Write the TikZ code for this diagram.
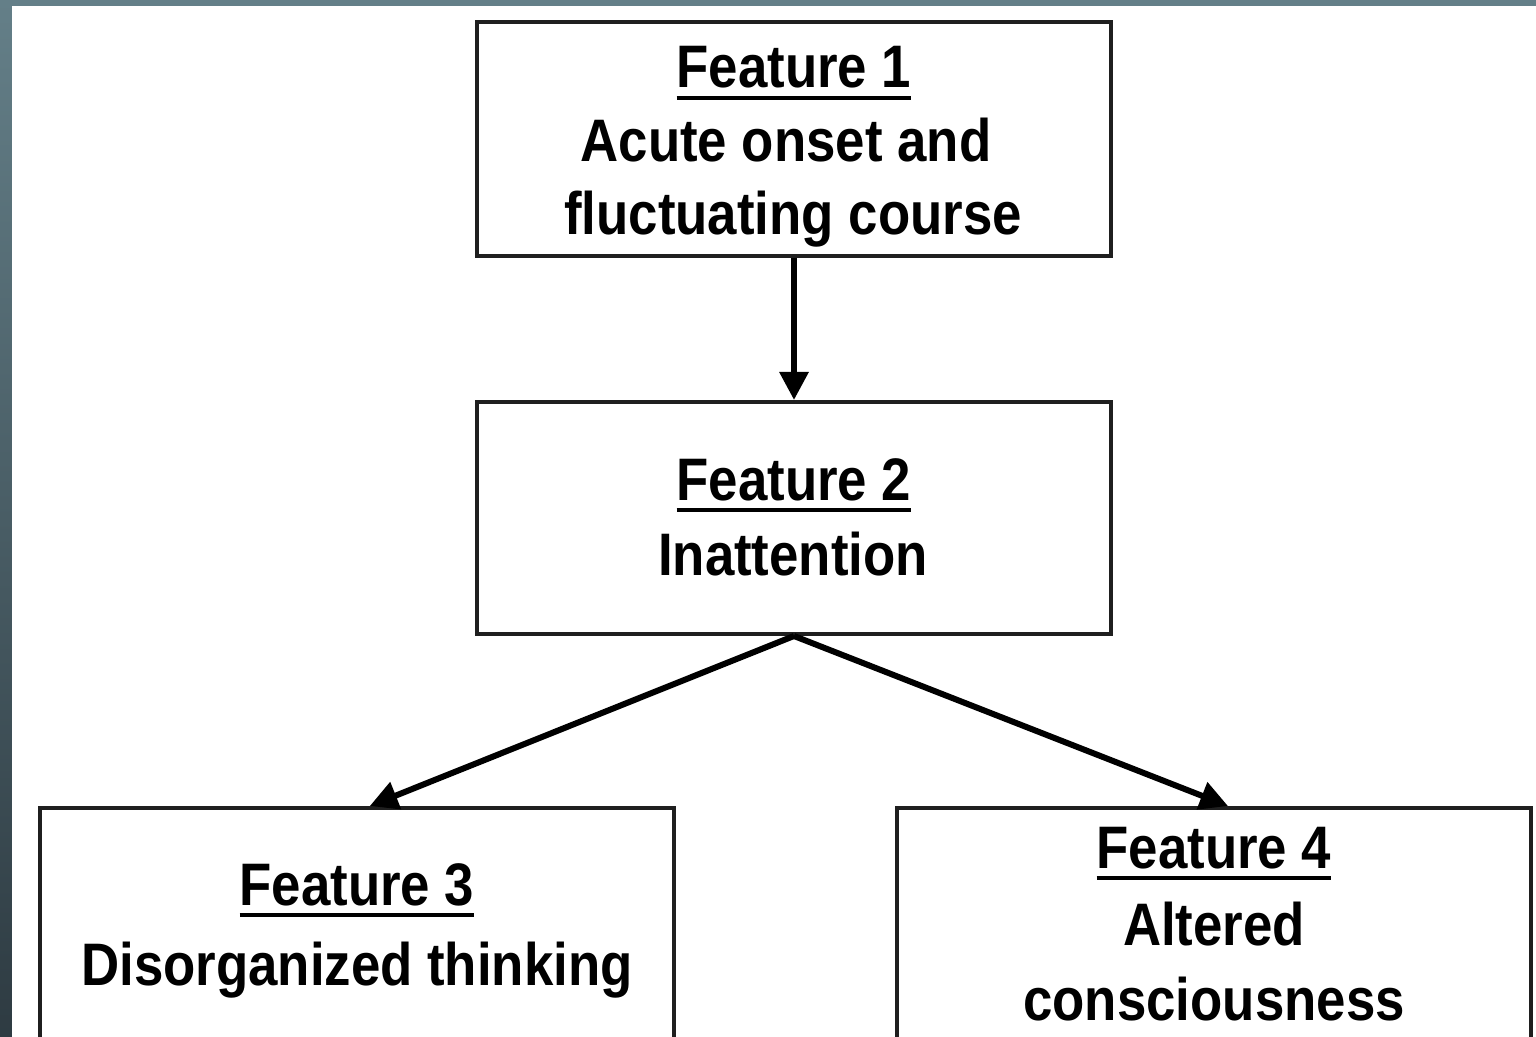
\documentclass[tikz,border=0pt]{standalone}
\usepackage{fontspec}
\setmainfont{Liberation Sans}[FakeStretch=0.88]
\usetikzlibrary{arrows.meta,calc}
\definecolor{bgtop}{HTML}{647F88}
\definecolor{bgbot}{HTML}{2E3B42}
\newcommand\featul[1]{\setbox0\hbox{#1}\rlap{\copy0}\rule[-6pt]{\wd0}{2.2pt}}
\begin{document}
\begin{tikzpicture}[x=0.5pt,y=-0.5pt,
  box/.style={draw=black!88,line width=2pt,fill=white,inner sep=0pt},
  txt/.style={anchor=base,inner sep=0pt,font=\fontsize{30}{36}\selectfont\bfseries},
  arr/.style={line width=3pt,-{Triangle[length=14pt,width=14pt]}}]
\useasboundingbox (0,0) rectangle (1536,1037);
\clip (0,0) rectangle (1536,1037);
\shade[top color=bgtop,bottom color=bgbot] (0,0) rectangle (1536,1037);
\fill[white] (12,6) rectangle (1540,1040);
% boxes
\node[box,minimum width=317pt,minimum height=117pt] (b1) at (794,139) {};
\node[box,minimum width=317pt,minimum height=116pt] (b2) at (794,518) {};
\node[box,minimum width=317pt,minimum height=126pt] (b3) at (357,934) {};
\node[box,minimum width=317pt,minimum height=126pt] (b4) at (1214,934) {};
% texts
\node[txt] (t1a) at (794,88) {\featul{Feature 1}};
\node[txt] (t1b) at (786,162) {Acute onset and};
\node[txt] (t1c) at (793,235) {fluctuating course};
\node[txt] (t2a) at (794,500) {\featul{Feature 2}};
\node[txt] (t2b) at (793,575) {Inattention};
\node[txt] (t3a) at (357,905) {\featul{Feature 3}};
\node[txt] (t3b) at (357,985) {Disorganized thinking};
\node[txt] (t4a) at (1214,868) {\featul{Feature 4}};
\node[txt] (t4b) at (1214,945) {Altered};
\node[txt] (t4c) at (1214,1020) {consciousness};
% connectors
\coordinate (e3) at ($(b3.north west)!0.52!(b3.north east)$);
\coordinate (e4) at ($(b4.north west)!0.522!(b4.north east)$);
\draw[arr] (b1.south) -- (b2.north);
\draw[arr] (b2.south) -- (e3);
\draw[arr] (b2.south) -- (e4);
\end{tikzpicture}
\end{document}
